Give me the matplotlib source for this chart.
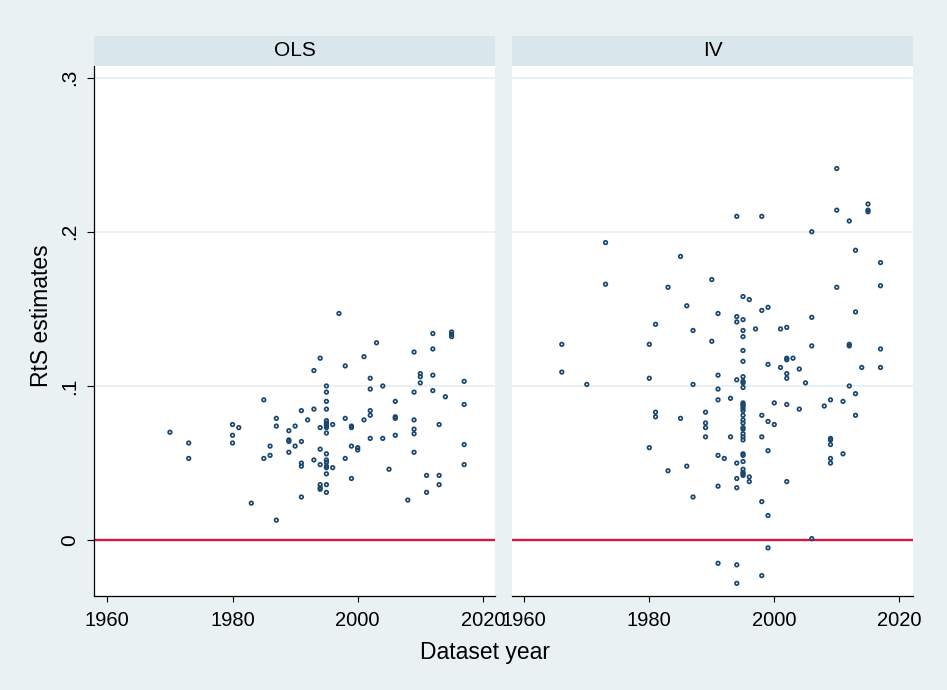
import matplotlib
matplotlib.use("Agg")
import matplotlib.pyplot as plt
import numpy as np

plt.rcParams['font.family'] = ['Liberation Sans', 'DejaVu Sans']

# ---------------- data ----------------
panel_titles = ["OLS", "IV"]
x_ticks = [1960, 1980, 2000, 2020]
y_ticks = [0, 0.1, 0.2, 0.3]
y_ticklabels = ["0", ".1", ".2", ".3"]

ols_year = [1970, 1973, 1973, 1980, 1981, 1980, 1980, 1983, 1985, 1985,
            1986, 1986, 1987, 1987, 1987, 1989, 1989, 1989, 1989, 1990,
            1990, 1991, 1991, 1991, 1991, 1991, 1992, 1993, 1993, 1993,
            1994, 1994, 1994, 1994, 1994, 1994, 1994,
            1995, 1995, 1995, 1995, 1995, 1995, 1995, 1995, 1995, 1995,
            1995, 1995, 1995, 1995, 1995, 1995, 1995, 1995,
            1996, 1996, 1997, 1998, 1998, 1998, 1999, 1999, 1999, 1999,
            2000, 2000, 2001, 2001, 2002, 2002, 2002, 2002, 2002, 2003,
            2004, 2004, 2005, 2006, 2006, 2006, 2006, 2008,
            2009, 2009, 2009, 2009, 2009, 2009, 2010, 2010, 2010,
            2011, 2011, 2012, 2012, 2012, 2012, 2013, 2013, 2013, 2014,
            2015, 2015, 2015, 2017, 2017, 2017, 2017]
ols_rts = [0.070, 0.063, 0.053, 0.075, 0.073, 0.068, 0.063, 0.024, 0.091, 0.053,
           0.061, 0.055, 0.079, 0.074, 0.013, 0.071, 0.065, 0.064, 0.057, 0.074,
           0.061, 0.084, 0.064, 0.050, 0.048, 0.028, 0.078, 0.110, 0.085, 0.052,
           0.118, 0.073, 0.059, 0.049, 0.036, 0.034, 0.033,
           0.100, 0.096, 0.090, 0.085, 0.0775, 0.076, 0.075, 0.074, 0.073, 0.0695,
           0.056, 0.052, 0.0505, 0.048, 0.047, 0.043, 0.036, 0.031,
           0.075, 0.047, 0.147, 0.113, 0.079, 0.053, 0.074, 0.073, 0.061, 0.040,
           0.060, 0.0585, 0.119, 0.078, 0.105, 0.098, 0.084, 0.081, 0.066, 0.128,
           0.100, 0.066, 0.046, 0.090, 0.080, 0.079, 0.068, 0.026,
           0.122, 0.096, 0.078, 0.072, 0.069, 0.057, 0.108, 0.106, 0.102,
           0.042, 0.031, 0.134, 0.124, 0.107, 0.097, 0.075, 0.042, 0.036, 0.093,
           0.135, 0.1335, 0.132, 0.103, 0.088, 0.062, 0.049]

iv_year = [1966, 1966, 1970, 1973, 1973, 1980, 1980, 1980, 1981, 1981, 1981,
           1983, 1983, 1985, 1985, 1986, 1986, 1987, 1987, 1987,
           1989, 1989, 1989, 1989, 1990, 1990,
           1991, 1991, 1991, 1991, 1991, 1991, 1991, 1992, 1993, 1993,
           1994, 1994, 1994, 1994, 1994, 1994, 1994, 1994, 1994,
           1995, 1995, 1995, 1995, 1995, 1995, 1995, 1995, 1995, 1995,
           1995, 1995, 1995, 1995, 1995, 1995, 1995, 1995, 1995, 1995,
           1995, 1995, 1995, 1995, 1995, 1995, 1995, 1995, 1995, 1995,
           1996, 1996, 1996, 1997,
           1998, 1998, 1998, 1998, 1998, 1998,
           1999, 1999, 1999, 1999, 1999, 1999,
           2000, 2000, 2001, 2001,
           2002, 2002, 2002, 2002, 2002, 2002, 2002, 2003, 2004, 2004, 2005,
           2006, 2006, 2006, 2006, 2008,
           2009, 2009, 2009, 2009, 2009, 2009, 2010, 2010, 2010, 2011, 2011,
           2012, 2012, 2012, 2012, 2013, 2013, 2013, 2013, 2014,
           2015, 2015, 2015, 2017, 2017, 2017, 2017]
iv_rts = [0.127, 0.109, 0.101, 0.193, 0.166, 0.127, 0.105, 0.060, 0.140, 0.083, 0.080,
          0.164, 0.045, 0.184, 0.079, 0.152, 0.048, 0.136, 0.101, 0.028,
          0.083, 0.076, 0.073, 0.067, 0.169, 0.129,
          0.147, 0.107, 0.098, 0.091, 0.055, 0.035, -0.015, 0.053, 0.092, 0.067,
          0.210, 0.145, 0.1415, 0.104, 0.050, 0.040, 0.034, -0.016, -0.028,
          0.158, 0.143, 0.136, 0.132, 0.123, 0.116, 0.106, 0.103, 0.102, 0.099,
          0.089, 0.088, 0.087, 0.0855, 0.084, 0.081, 0.078, 0.076, 0.073, 0.072,
          0.069, 0.067, 0.065, 0.056, 0.055, 0.051, 0.046, 0.044, 0.043, 0.042,
          0.156, 0.041, 0.038, 0.137,
          0.210, 0.149, 0.081, 0.067, 0.025, -0.023,
          0.151, 0.114, 0.077, 0.058, 0.016, -0.005,
          0.089, 0.075, 0.137, 0.112,
          0.138, 0.118, 0.117, 0.108, 0.105, 0.088, 0.038, 0.118, 0.111, 0.085, 0.102,
          0.200, 0.1445, 0.126, 0.001, 0.087,
          0.091, 0.066, 0.065, 0.062, 0.053, 0.050, 0.241, 0.214, 0.164, 0.090, 0.056,
          0.207, 0.127, 0.126, 0.100, 0.188, 0.148, 0.095, 0.081, 0.112,
          0.218, 0.214, 0.213, 0.180, 0.165, 0.124, 0.112]

# ---------------- style ----------------
W, H = 947, 690
BG = '#EAF1F3'
STRIP = '#D9E6EB'
GRID = '#E6EFF2'
NAVY = '#1A476F'
RED = '#D5173F'

fig = plt.figure(figsize=(W / 100, H / 100), dpi=100, facecolor=BG)


def fx(px):
    return px / W


def fy(py):
    return 1 - py / H


plot_top, plot_bot = 66, 596.3
strip_top = 35.7
panels = [(94.3, 495.0, (1957.92, 2021.93)), (512.0, 913.0, (1958.03, 2022.2))]
datasets = [(ols_year, ols_rts), (iv_year, iv_rts)]

for i, ((x0, x1, xl), (yrs, vals), title) in enumerate(zip(panels, datasets, panel_titles)):
    ax = fig.add_axes([fx(x0), fy(plot_bot), fx(x1) - fx(x0), fy(plot_top) - fy(plot_bot)])
    ax.set_facecolor('white')
    ax.set_xlim(*xl)
    ax.set_ylim(-0.0364, 0.3075)
    for g in y_ticks[1:]:
        ax.axhline(g, color=GRID, lw=1.2, zorder=1)
    ax.axhline(0, color=RED, lw=1.7, zorder=2)
    ax.scatter(yrs, vals, s=6.5, facecolors='none', edgecolors=NAVY,
               linewidths=1.25, zorder=3)
    for s in ['top', 'right']:
        ax.spines[s].set_visible(False)
    ax.spines['bottom'].set_linewidth(0.9)
    ax.spines['left'].set_linewidth(0.9)
    ax.set_xticks(x_ticks)
    ax.set_xticklabels([str(t) for t in x_ticks])
    ax.tick_params(axis='x', length=4.5, width=0.8, pad=6, labelsize=14.5)
    ax.set_yticks(y_ticks)
    if i == 0:
        ax.set_yticklabels(y_ticklabels, rotation=90, va='center')
        ax.tick_params(axis='y', length=5, width=0.8, pad=6, labelsize=15)
    else:
        ax.spines['left'].set_visible(False)
        ax.tick_params(axis='y', length=0, labelleft=False)

    sax = fig.add_axes([fx(x0), fy(plot_top), fx(x1) - fx(x0), fy(strip_top) - fy(plot_top)])
    sax.set_facecolor(STRIP)
    sax.set_xticks([])
    sax.set_yticks([])
    for s in sax.spines.values():
        s.set_visible(False)
    sax.text(0.5, 0.5, title, ha='center', va='center', fontsize=15, transform=sax.transAxes)

fig.text(fx(485), fy(652), "Dataset year", ha='center', va='center', fontsize=16.5)
fig.text(fx(41), fy(316), "RtS estimates", ha='center', va='center', rotation=90, fontsize=16.5)

fig.savefig("out.png", dpi=100, facecolor=BG)
